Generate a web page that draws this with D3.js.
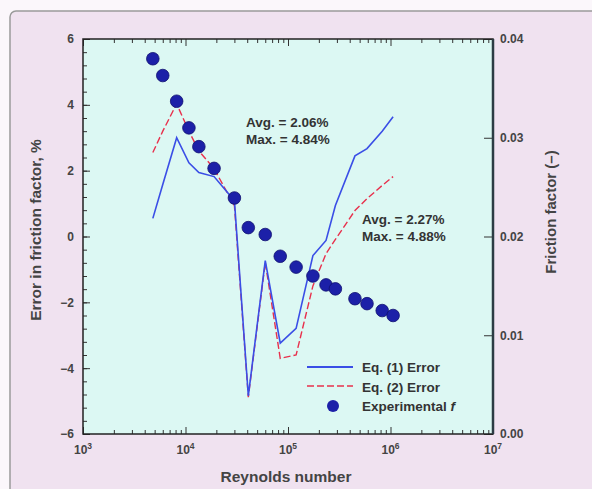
<!DOCTYPE html>
<html>
<head>
<meta charset="utf-8">
<script src="https://cdn.jsdelivr.net/npm/d3@7"></script>
<style>
  body { margin: 0; background: #fbf7fb; }
  svg text { font-family: "Liberation Sans", Arial, sans-serif; }
</style>
</head>
<body>
<div id="chart"></div>
<script>
// Reynolds numbers shared by the measurements and both error curves
var reynolds = [4800, 6000, 8200, 10800, 13500, 19000, 30000, 41000, 60000, 84000,
                120000, 175000, 235000, 290000, 450000, 590000, 830000, 1060000];
// experimental friction factor (right axis)
var frictionExp = [0.0380, 0.0363, 0.0337, 0.0310, 0.0291, 0.0269, 0.0239, 0.0209, 0.0202, 0.0180,
                   0.0169, 0.0160, 0.0151, 0.0147, 0.0137, 0.0132, 0.0125, 0.0120];
// error in friction factor, % (left axis)
var eq1Error = [0.55, 1.58, 3.0, 2.24, 1.94, 1.82, 1.09, -4.84, -0.73, -3.24,
                -2.79, -0.58, -0.12, 0.94, 2.45, 2.67, 3.2, 3.64];
var eq2Error = [2.55, 3.2, 4.03, 3.2, 2.6, 2.06, 0.94, -4.88, -0.79, -3.7,
                -3.6, -1.5, -0.52, -0.09, 0.79, 1.15, 1.55, 1.82];

var xTickExps = [3, 4, 5, 6, 7];
var leftTicks = [-6, -4, -2, 0, 2, 4, 6];
var rightTicks = [0, 0.01, 0.02, 0.03, 0.04];
var legendLabels = ["Eq. (1) Error", "Eq. (2) Error", "Experimental "];

var width = 592, height = 489;
var plotL = 83, plotR = 493, plotT = 39, plotB = 434;

var svg = d3.select("#chart").append("svg")
    .attr("width", width)
    .attr("height", height);

// outer panel
svg.append("rect").attr("x", 0).attr("y", 0).attr("width", width).attr("height", height).attr("fill", "#fbf7fb");
svg.append("rect")
    .attr("x", 10).attr("y", 11).attr("width", width).attr("height", height)
    .attr("rx", 6)
    .attr("fill", "#f0e2f0")
    .attr("stroke", "#9a9a9a")
    .attr("stroke-width", 1.5);

var x = d3.scaleLog().domain([1e3, 1e7]).range([plotL, plotR]);
var yL = d3.scaleLinear().domain([-6, 6]).range([plotB, plotT]);
var yR = d3.scaleLinear().domain([0, 0.04]).range([plotB, plotT]);

// plot background
svg.append("rect")
    .attr("x", plotL).attr("y", plotT)
    .attr("width", plotR - plotL).attr("height", plotB - plotT)
    .attr("fill", "#dcf8f3");

var majorX = xTickExps.map(function(e) { return Math.pow(10, e); });
var minorX = x.ticks().filter(function(d) { return majorX.indexOf(d) < 0; });

function styleAxis(g) {
    g.select(".domain").remove();
    g.selectAll("line").attr("stroke", "#333").attr("stroke-width", 1);
}

// bottom axis
svg.append("g").attr("transform", "translate(0," + plotB + ")")
    .call(d3.axisBottom(x).tickValues(minorX).tickSize(-4).tickFormat(""))
    .call(styleAxis);
svg.append("g").attr("transform", "translate(0," + plotB + ")")
    .call(d3.axisBottom(x).tickValues(majorX).tickSize(-7).tickFormat(""))
    .call(styleAxis);
// top axis
svg.append("g").attr("transform", "translate(0," + plotT + ")")
    .call(d3.axisTop(x).tickValues(minorX).tickSize(-4).tickFormat(""))
    .call(styleAxis);
svg.append("g").attr("transform", "translate(0," + plotT + ")")
    .call(d3.axisTop(x).tickValues(majorX).tickSize(-7).tickFormat(""))
    .call(styleAxis);

// x labels with superscripts
var xl = svg.append("g").selectAll("text").data(xTickExps).enter().append("text")
    .attr("x", function(d) { return x(Math.pow(10, d)); })
    .attr("y", plotB + 20)
    .attr("text-anchor", "middle")
    .attr("font-size", 12)
    .attr("font-weight", "bold")
    .attr("fill", "#444");
xl.append("tspan").text("10");
xl.append("tspan").attr("dy", -5).attr("font-size", 8.5).text(function(d) { return d; });

// left axis
var minorL = d3.range(-6, 6.001, 0.4);
svg.append("g").attr("transform", "translate(" + plotL + ",0)")
    .call(d3.axisLeft(yL).tickValues(minorL).tickSize(-4).tickFormat(""))
    .call(styleAxis);
svg.append("g").attr("transform", "translate(" + plotL + ",0)")
    .call(d3.axisLeft(yL).tickValues(leftTicks).tickSize(-7).tickPadding(9).tickFormat(d3.format("d")))
    .call(styleAxis)
    .selectAll("text").attr("font-size", 12).attr("font-weight", "bold").attr("fill", "#444");

// right axis
svg.append("g").attr("transform", "translate(" + plotR + ",0)")
    .call(d3.axisRight(yR).tickValues(rightTicks).tickSize(-9).tickPadding(7).tickFormat(d3.format(".2f")))
    .call(styleAxis)
    .selectAll("text").attr("font-size", 12).attr("font-weight", "bold").attr("fill", "#444");

// frame
svg.append("rect")
    .attr("x", plotL).attr("y", plotT)
    .attr("width", plotR - plotL).attr("height", plotB - plotT)
    .attr("fill", "none")
    .attr("stroke", "#222")
    .attr("stroke-width", 1.5);
svg.append("line").attr("x1", plotR).attr("x2", plotR).attr("y1", plotT).attr("y2", plotB)
    .attr("stroke", "#2c3c44").attr("stroke-width", 2.5);

// axis titles
svg.append("text")
    .attr("transform", "translate(41," + 230 + ") rotate(-90)")
    .attr("text-anchor", "middle")
    .attr("font-size", 15.5).attr("font-weight", "bold").attr("fill", "#444")
    .text("Error in friction factor, %");
svg.append("text")
    .attr("transform", "translate(556," + 212 + ") rotate(-90)")
    .attr("text-anchor", "middle")
    .attr("font-size", 15).attr("font-weight", "bold").attr("fill", "#444")
    .text("Friction factor (\u2013)");
svg.append("text")
    .attr("x", 286).attr("y", 482)
    .attr("text-anchor", "middle")
    .attr("font-size", 15.5).attr("font-weight", "bold").attr("fill", "#444")
    .text("Reynolds number");

// lines
var errLine = d3.line()
    .x(function(d, i) { return x(reynolds[i]); })
    .y(function(d) { return yL(d); });

svg.append("path").datum(eq2Error)
    .attr("d", errLine)
    .attr("fill", "none")
    .attr("stroke", "#e8304c")
    .attr("stroke-width", 1.4)
    .attr("stroke-dasharray", "7,3");

svg.append("path").datum(eq1Error)
    .attr("d", errLine)
    .attr("fill", "none")
    .attr("stroke", "#3a4ee6")
    .attr("stroke-width", 1.6);

// experimental points
svg.append("g").selectAll("circle").data(frictionExp).enter().append("circle")
    .attr("cx", function(d, i) { return x(reynolds[i]); })
    .attr("cy", function(d) { return yR(d); })
    .attr("r", 6.3)
    .attr("fill", "#1c20a8")
    .attr("stroke", "#101070")
    .attr("stroke-width", 0.8);

// annotations
var notes = [
    { x: 246, y: 127, lines: ["Avg. = 2.06%", "Max. = 4.84%"] },
    { x: 362, y: 224, lines: ["Avg. = 2.27%", "Max. = 4.88%"] }
];
notes.forEach(function(n) {
    n.lines.forEach(function(t, i) {
        svg.append("text")
            .attr("x", n.x).attr("y", n.y + i * 17)
            .attr("font-size", 13.5).attr("font-weight", "bold").attr("fill", "#333")
            .text(t);
    });
});

// legend
var lg = svg.append("g").attr("transform", "translate(307,367)");
lg.append("line").attr("x1", 0).attr("x2", 46).attr("y1", 0).attr("y2", 0)
    .attr("stroke", "#3a4ee6").attr("stroke-width", 1.8);
lg.append("line").attr("x1", 0).attr("x2", 46).attr("y1", 19).attr("y2", 19)
    .attr("stroke", "#e8304c").attr("stroke-width", 1.5).attr("stroke-dasharray", "7,3");
lg.append("circle").attr("cx", 26).attr("cy", 39).attr("r", 6).attr("fill", "#1c20a8");
legendLabels.forEach(function(t, i) {
    var tx = lg.append("text")
        .attr("x", 55).attr("y", 5 + i * 19.5)
        .attr("font-size", 13.5).attr("font-weight", "bold").attr("fill", "#333")
        .text(t);
    if (i === 2) tx.append("tspan").attr("font-style", "italic").text("f");
});
</script>
</body>
</html>
